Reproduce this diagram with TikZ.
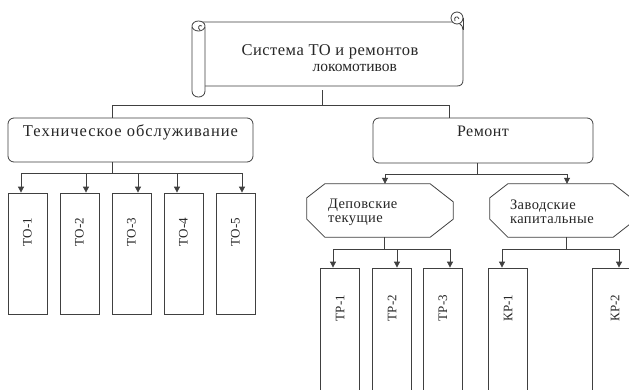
\documentclass[tikz,border=0pt]{standalone}
\usepackage{fontspec}
\setmainfont{Liberation Serif}
\newfontfamily\wideA[LetterSpace=6]{Liberation Serif}
\newfontfamily\wideB[LetterSpace=3]{Liberation Serif}
\usetikzlibrary{arrows.meta,calc}

\tikzset{
  line/.style={draw=black!75, line width=0.8pt},
  arr/.style={line, -{Triangle[width=6pt,length=6pt]}},
  rbox/.style={line, rounded corners=6pt, inner sep=0pt, text=black!85},
  tallbox/.style={line, minimum width=39pt, inner sep=0pt},
  vlabel/.style={rotate=90, font=\fontsize{13}{15}\selectfont, text=black!85},
  octlabel/.style={inner sep=0pt, align=left, font=\wideB\fontsize{14.5}{14}\selectfont, text=black!85},
}

\begin{document}
\begin{tikzpicture}[x=1pt, y=-1pt]
  \clip (0,0) rectangle (629,389);
  \fill[white] (0,0) rectangle (629,389);

  % ---------- scroll: body, left roll, top-right curl ----------
  \path[line, fill=white]
    (198,22) -- (452,22)
    .. controls (458,22) and (463,24) .. (463,30) -- (463,80)
    .. controls (463,84) and (461,86) .. (457,86) -- (205,86);
  % top right curl
  \draw[line, fill=white] (457,18) circle[radius=6];
  \draw[line] (455,21) .. controls (453,17) and (458,15) .. (459,19);
  \draw[line] (463,18) -- (463,30);
  % left roll
  \path[line, fill=white]
    (192,27) -- (192,91) .. controls (192,99) and (205,99) .. (205,91) -- (205,27);
  \draw[line, fill=white] (198.5,26) ellipse[x radius=6.5, y radius=5];
  \draw[line] (200,30) .. controls (197,28) and (199,24) .. (202,26);

  \node[inner sep=0pt, minimum width=273pt, minimum height=64pt,
        align=left, text=black!85, font=\fontsize{16}{16.5}\selectfont]
        (sys) at (330,58)
        {{\wideB\fontsize{16.5}{16.5}\selectfont Система ТО и ремонтов}\\
         \hspace*{71pt}{\fontsize{15.5}{16.5}\selectfont локомотивов}};

  % ---------- second level ----------
  \node[rbox, minimum width=245pt, minimum height=44pt, text depth=18pt,
        font=\wideA\fontsize{16.5}{18}\selectfont]
        (tech) at (130.5,140) {Техническое обслуживание};
  \node[rbox, minimum width=220pt, minimum height=45pt, text depth=18pt,
        font=\wideB\fontsize{16}{18}\selectfont]
        (rem) at (483,140.5) {Ремонт};

  \coordinate (top)  at (322,105);
  \coordinate (topL) at (112,105);
  \coordinate (topR) at (449,105);
  \draw[line] (top |- sys.south) -- (top);
  \draw[line] (topL |- tech.north) -- (topL) -- (topR) -- (topR |- rem.north);

  % ---------- maintenance kinds ----------
  \foreach \n/\x in {1/27.5, 2/79.5, 3/131.5, 4/183.5, 5/235.5} {
    \node[tallbox, minimum height=121pt] (to\n) at (\x,253.5) {};
    \node[vlabel] at (\x,232) {ТО-\n};
  }
  \coordinate (tj) at (112,173);
  \draw[line] (tech.south -| tj) -- (tj);
  \foreach \n/\x in {1/21, 2/86, 3/138, 4/177, 5/242} {
    \coordinate (ta\n) at (\x,173);
  }
  \draw[line] (ta1) -- (ta5);
  \foreach \n in {1,...,5} {
    \draw[arr] (ta\n) -- (ta\n |- to\n.north);
  }

  % ---------- repair kinds (octagons) ----------
  \node[inner sep=0pt, minimum width=146pt, minimum height=53pt] (dep) at (380,210.5) {};
  \node[inner sep=0pt, minimum width=146pt, minimum height=53pt] (zav) at (563,210.5) {};
  \foreach \o in {dep, zav} {
    \draw[line]
      ($(\o.north west)+(18,0)$) -- ($(\o.north east)+(-23,0)$)
      -- ($(\o.north east)+(0,18)$) -- ($(\o.south east)+(0,-18)$)
      -- ($(\o.south east)+(-23,0)$) -- ($(\o.south west)+(18,0)$)
      -- ($(\o.south west)+(0,-18)$) -- ($(\o.north west)+(0,14)$) -- cycle;
  }
  \node[octlabel, anchor=west] at ($(dep.west)+(21,1.5)$) {Деповские\\текущие};
  \node[octlabel, anchor=west] at ($(zav.west)+(20,1.5)$) {Заводские\\капитальные};

  \coordinate (rj)  at (477,174);
  \coordinate (ra1) at (385,174);
  \coordinate (ra2) at (567,174);
  \draw[line] (rem.south -| rj) -- (rj);
  \draw[line] (ra1) -- (ra2);
  \draw[arr] (ra1) -- (ra1 |- dep.north);
  \draw[arr] (ra2) -- (ra2 |- zav.north);

  % ---------- current repairs ----------
  \foreach \n/\x in {1/340, 2/392, 3/443} {
    \node[tallbox, minimum height=130pt] (tr\n) at (\x,333) {};
    \node[vlabel] at (\x,308) {ТР-\n};
  }
  \coordinate (dj) at (384,249);
  \draw[line] (dep.south -| dj) -- (dj);
  \foreach \n/\x in {1/333, 2/397, 3/450} {
    \coordinate (da\n) at (\x,249);
  }
  \draw[line] (da1) -- (da3);
  \foreach \n in {1,2,3} {
    \draw[arr] (da\n) -- (da\n |- tr\n.north);
  }

  % ---------- major repairs ----------
  \node[tallbox, minimum height=130pt] (kr1) at (508,333) {};
  \node[vlabel] at (508,308) {КР-1};
  \node[tallbox, minimum height=130pt] (kr2) at (612,333) {};
  \node[vlabel] at (615,308) {КР-2};
  \coordinate (kj)  at (566,249);
  \coordinate (ka1) at (502,249);
  \coordinate (ka2) at (619,249);
  \draw[line] (zav.south -| kj) -- (kj);
  \draw[line] (ka1) -- (ka2);
  \draw[arr] (ka1) -- (ka1 |- kr1.north);
  \draw[arr] (ka2) -- (ka2 |- kr2.north);
\end{tikzpicture}
\end{document}
